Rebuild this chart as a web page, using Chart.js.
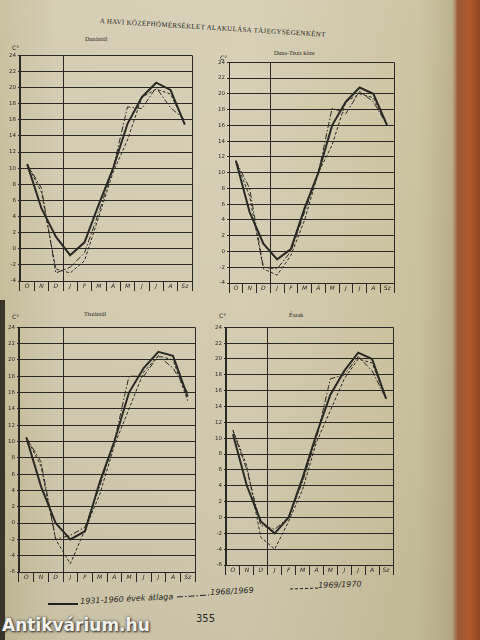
<!DOCTYPE html>
<html>
<head>
<meta charset="utf-8">
<script src="https://cdn.jsdelivr.net/npm/chart.js@4.4.1/dist/chart.umd.min.js"></script>
<style>
  html, body { margin: 0; padding: 0; }
  body {
    width: 480px; height: 640px; overflow: hidden; position: relative;
    background: linear-gradient(90deg, #c6bd9a 0px, #d2cbb0 60px, #d4cdb2 250px, #c9c09c 420px, #b8ad88 452px, #9c5a34 458px, #b0582c 470px, #8f4524 480px);
    font-family: "Liberation Serif", serif; color: #2a2823;
  }
  .shade { position: absolute; left: 0; top: 0; width: 456px; height: 640px;
    background: linear-gradient(180deg, rgba(255,255,255,0.08) 0px, rgba(0,0,0,0) 300px, rgba(60,50,20,0.06) 640px); }
  .leftedge { position: absolute; left: 0; top: 300px; width: 5px; height: 340px; background: #3b3428; }
  canvas { position: absolute; }
  .t { position: absolute; white-space: nowrap; }
  .title { left: 100px; top: 17px; font-size: 7px; letter-spacing: 0.3px; transform: rotate(3.5deg); transform-origin: left top; }
  .sub { font-size: 6px; }
  .unit { font-size: 6px; font-family: "DejaVu Sans", sans-serif; }
  .leg { font-family: "DejaVu Sans", sans-serif; font-style: italic; font-size: 8px; }
  .page { left: 196px; top: 613px; font-size: 10px; font-family: "DejaVu Sans", sans-serif; }
  .wm { left: 2px; top: 615px; font-family: "DejaVu Sans", sans-serif; font-weight: bold; font-size: 17px;
        color: #f2f0ea; text-shadow: 1px 1px 2px #333, 0 0 3px #555; }
</style>
</head>
<body>
<div class="shade"></div>
<div class="leftedge"></div>

<div class="t title">A HAVI KÖZÉPHŐMÉRSÉKLET ALAKULÁSA TÁJEGYSÉGENKÉNT</div>

<div class="t sub" style="left:85px;top:36px;">Dunántúl</div>
<div class="t sub" style="left:274px;top:50px;">Duna-Tisza köze</div>
<div class="t sub" style="left:84px;top:311px;">Tiszántúl</div>
<div class="t sub" style="left:289px;top:312px;">Észak</div>

<div class="t unit" style="left:12px;top:44px;">C°</div>
<div class="t unit" style="left:220px;top:54px;">C°</div>
<div class="t unit" style="left:12px;top:313px;">C°</div>
<div class="t unit" style="left:219px;top:312px;">C°</div>

<canvas id="c1" width="190" height="245" style="left:4px;top:50px;"></canvas>
<canvas id="c2" width="183" height="240" style="left:213px;top:57px;"></canvas>
<canvas id="c3" width="194" height="264" style="left:3px;top:322px;"></canvas>
<canvas id="c4" width="185" height="257" style="left:210px;top:322px;"></canvas>

<!-- legend -->
<div class="t" style="left:48px;top:603px;width:30px;border-top:2px solid #222;"></div>
<div class="t leg" style="left:80px;top:597px;transform:rotate(-3deg);transform-origin:left top;">1931-1960 évek átlaga</div>
<svg class="t" style="left:177px;top:593px;" width="32" height="6"><line x1="0" y1="4" x2="32" y2="2" stroke="#222" stroke-width="1" stroke-dasharray="6,2,1.5,2"/></svg>
<div class="t leg" style="left:210px;top:588px;transform:rotate(-3deg);transform-origin:left top;">1968/1969</div>
<svg class="t" style="left:290px;top:585px;" width="30" height="6"><line x1="0" y1="4" x2="30" y2="3" stroke="#222" stroke-width="1" stroke-dasharray="3,2"/></svg>
<div class="t leg" style="left:318px;top:581px;transform:rotate(-2deg);transform-origin:left top;">1969/1970</div>

<div class="t page">355</div>
<div class="t wm">Antikvárium.hu</div>

<script>
const months = ['O', 'N', 'D', 'J', 'F', 'M', 'Á', 'M', 'J', 'J', 'A', 'Sz'];
const seriesNames = ['1931-1960 évek átlaga', '1968/1969', '1969/1970'];

// Dunántúl
const dunantulAvg = [10.5, 5, 1.5, -0.8, 0.8, 5.5, 10, 15.5, 18.8, 20.6, 19.7, 15.4];
const dunantul6869 = [10.5, 7.5, -3, -2.3, -0.5, 4.5, 10, 17.6, 17.4, 20, 17.5, 16];
const dunantul6970 = [10.5, 7, -2.5, -3, -1.5, 4, 9.5, 13.5, 18.8, 19.8, 19.2, 15.5];

// Duna-Tisza köze
const dtkAvg = [11.5, 5, 1, -1, 0.3, 5.5, 10, 16, 19, 20.8, 20, 16];
const dtk6869 = [11.5, 8, -2, -2.2, 0, 5, 10, 18.2, 17.5, 20.3, 19, 16];
const dtk6970 = [11.5, 7, -2.2, -3, -0.5, 4, 10, 13.5, 19, 20, 19.5, 16];

// Tiszántúl
const tiszAvg = [10.5, 4.5, 0, -2, -1, 5, 10, 16, 19, 21, 20.5, 15.5];
const tisz6869 = [10.5, 7.5, -2, -1.5, -0.5, 4.5, 10, 18, 18, 20.5, 19, 16];
const tisz6970 = [10.5, 7, -2, -5, -0.8, 3.5, 9.5, 14, 18.5, 20.5, 20, 15];

// Észak
const eszakAvg = [10.5, 4, -0.5, -2, 0, 5, 10.5, 15.5, 18.5, 20.8, 20, 15];
const eszak6869 = [11, 6, -1, -1.5, 0, 4.5, 10, 17.5, 18, 20.3, 18.5, 15];
const eszak6970 = [11, 6.5, -2.5, -4, -0.5, 3.5, 9.5, 13.5, 17.5, 20, 19.5, 15];

const ink = '#2b2923';

function makeChart(id, avg, s6869, s6970, yMin) {
  new Chart(document.getElementById(id), {
    type: 'line',
    data: {
      labels: months,
      datasets: [
        { label: seriesNames[0], data: avg, borderColor: ink, borderWidth: 2, pointRadius: 0, tension: 0 },
        { label: seriesNames[1], data: s6869, borderColor: ink, borderWidth: 1, borderDash: [6, 2, 1.5, 2], pointRadius: 0, tension: 0 },
        { label: seriesNames[2], data: s6970, borderColor: ink, borderWidth: 1, borderDash: [3, 2], pointRadius: 0, tension: 0 }
      ]
    },
    options: {
      responsive: false,
      animation: false,
      devicePixelRatio: 1,
      layout: { padding: { top: 5, right: 2, left: 0, bottom: 0 } },
      plugins: { legend: { display: false }, tooltip: { enabled: false } },
      scales: {
        x: {
          offset: true,
          afterFit: s => { s.height = 14; },
          grid: {
            offset: true,
            color: c => (c.type !== 'tick' || c.index === 0 || c.index === 3) ? ink : 'rgba(0,0,0,0)',
            tickColor: ink,
            tickLength: 10
          },
          border: { display: false },
          ticks: { autoSkip: false, maxRotation: 0, padding: -8, color: ink,
                   font: { family: 'DejaVu Sans', size: 6, style: 'italic' } }
        },
        y: {
          min: yMin, max: 24,
          afterFit: s => { s.width = 16; },
          grid: { color: ink, lineWidth: 1, tickLength: 2, tickColor: ink },
          border: { display: true, color: ink },
          ticks: { stepSize: 2, padding: 2, color: ink,
                   font: { family: 'DejaVu Sans', size: 5.5 } }
        }
      }
    }
  });
}

makeChart('c1', dunantulAvg, dunantul6869, dunantul6970, -4);
makeChart('c2', dtkAvg, dtk6869, dtk6970, -4);
makeChart('c3', tiszAvg, tisz6869, tisz6970, -6);
makeChart('c4', eszakAvg, eszak6869, eszak6970, -6);
</script>
</body>
</html>
